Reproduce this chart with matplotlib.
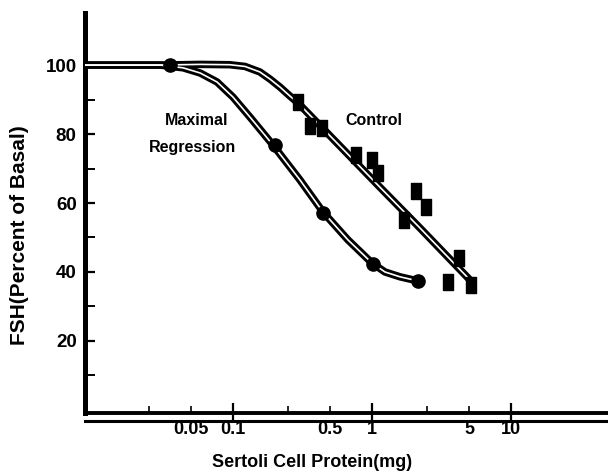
import matplotlib.pyplot as plt
from matplotlib.ticker import FixedLocator, NullFormatter

plt.rcParams["font.family"] = ["Liberation Sans Narrow", "Liberation Sans", "DejaVu Sans"]
plt.rcParams["font.weight"] = "bold"

# --------------------------------------------------
# Data
# --------------------------------------------------

# fitted curves (sampled along the drawn line)
control_curve_x = [0.0086, 0.0298, 0.058, 0.095, 0.122, 0.156, 0.185, 0.218, 0.257, 0.294,
                   0.589, 1.14, 2.21, 5.07]
control_curve_y = [100.0, 100.0, 100.2, 100.1, 99.6, 98.0, 95.9, 93.6, 91.0, 89.0,
                   76.5, 64.6, 52.8, 37.7]

regress_curve_x = [0.0086, 0.0298, 0.0437, 0.058, 0.0767, 0.1, 0.1325, 0.194, 0.303,
                   0.444, 0.672, 1.0, 1.24, 1.59, 2.14]
regress_curve_y = [100.0, 100.0, 99.2, 97.7, 95.1, 90.7, 84.9, 76.8, 66.7,
                   57.4, 49.3, 42.6, 40.0, 38.6, 37.4]

# measured points
control_x = [0.294, 0.358, 0.437, 0.767, 1.0, 1.10, 2.07, 2.45, 1.70, 4.22, 3.52, 5.15]
control_y = [89.3, 82.3, 81.7, 73.9, 72.5, 68.7, 63.5, 58.8, 55.1, 44.1, 37.1, 36.2]

regress_x = [0.035, 0.2, 0.444, 1.02, 2.14]
regress_y = [100.0, 76.8, 57.1, 42.3, 37.4]

x_tick_vals = [0.05, 0.1, 0.5, 1, 5, 10]
x_tick_labels = ["0.05", "0.1", "0.5", "1", "5", "10"]
x_minor_vals = [0.025, 0.05, 0.25, 0.5, 2.5, 5]
y_tick_vals = [20, 40, 60, 80, 100]
y_minor_vals = [10, 30, 50, 70, 90]

# --------------------------------------------------
# Figure
# --------------------------------------------------

fig = plt.figure(figsize=(6.08, 4.73), dpi=100)
ax = fig.add_axes([85 / 608, 1 - 413 / 473, 1 - 85 / 608, (413 - 13) / 473])

ax.set_xscale("log")
ax.set_xlim(0.0086, 50)
ax.set_ylim(-0.9, 115.1)

# each curve drawn as a heavy black line with a thin white core
for cx, cy in [(control_curve_x, control_curve_y), (regress_curve_x, regress_curve_y)]:
    ax.plot(cx, cy, color="black", lw=5.4, solid_capstyle="round",
            solid_joinstyle="round", zorder=2)
for cx, cy in [(control_curve_x, control_curve_y), (regress_curve_x, regress_curve_y)]:
    ax.plot(cx, cy, color="white", lw=1.2, solid_capstyle="round",
            solid_joinstyle="round", zorder=3)

rect = [(-0.55, -1), (0.55, -1), (0.55, 1), (-0.55, 1), (-0.55, -1)]
ax.plot(control_x, control_y, ls="none", marker=rect, ms=12, color="black", zorder=4)
ax.plot(regress_x, regress_y, ls="none", marker="o", ms=9.5, color="black", zorder=4)

ax.text(0.055, 84.0, "Maximal", ha="center", va="center", fontsize=11.5)
ax.text(0.051, 76.2, "Regression", ha="center", va="center", fontsize=11.5)
ax.text(0.64, 84.0, "Control", ha="left", va="center", fontsize=11.5)

# axes styling
for side in ["top", "right"]:
    ax.spines[side].set_visible(False)
ax.spines["left"].set_linewidth(3.6)
ax.spines["bottom"].set_linewidth(2.8)
ax.axhline(-3.2, color="black", lw=2.2, clip_on=False)

ax.xaxis.set_major_locator(FixedLocator([0.1, 1, 10]))
ax.xaxis.set_minor_locator(FixedLocator(x_minor_vals))
ax.xaxis.set_major_formatter(NullFormatter())
ax.xaxis.set_minor_formatter(NullFormatter())
ax.tick_params(axis="x", which="major", direction="inout", length=14, width=1.6)
ax.tick_params(axis="x", which="minor", direction="in", length=5, width=1.2)

for v, lab in zip(x_tick_vals, x_tick_labels):
    ax.text(v, -5.8, lab, ha="center", va="center", fontsize=13,
            transform=ax.transData, clip_on=False)

ax.yaxis.set_major_locator(FixedLocator(y_tick_vals))
ax.yaxis.set_minor_locator(FixedLocator(y_minor_vals))
ax.set_yticklabels([str(v) for v in y_tick_vals], fontsize=13.5, fontweight="bold")
ax.tick_params(axis="y", which="major", direction="in", length=7, width=1.6, pad=6)
ax.tick_params(axis="y", which="minor", direction="in", length=7, width=1.4)

fig.text(312 / 608, 1 - 462 / 473, "Sertoli Cell Protein(mg)", ha="center", va="center",
         fontsize=13, fontweight="bold")
fig.text(20 / 608, 1 - 235 / 473, "FSH(Percent of Basal)", ha="center", va="center",
         rotation=90, fontsize=15, fontweight="bold")

fig.savefig("out.png", dpi=100)
